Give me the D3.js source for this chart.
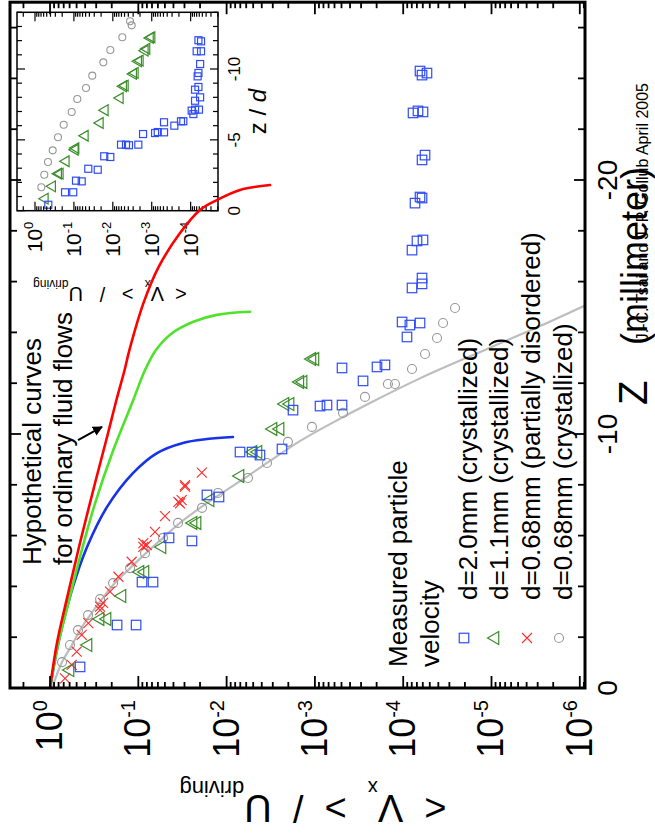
<!DOCTYPE html>
<html>
<head>
<meta charset="utf-8">
<script src="https://cdn.jsdelivr.net/npm/d3@7"></script>
<style>
  body { margin: 0; background: #fff; }
  svg { display: block; }
  text { font-family: 'Liberation Sans', Arial, Helvetica, sans-serif; fill: #000; }
</style>
</head>
<body>
<svg id="chart" width="655" height="835"></svg>
<script>
// ---------- measured particle velocity, main panel (Z in mm, V = <Vx>/U_driving) ----------
const sqZ = [-0.83,-2.48,-2.48,-4.17,-4.17,-5.91,-5.79,-7.60,-7.52,-9.29,-9.29,-9.17,-9.41,-10.94,-11.10,-11.14,-11.14,-12.60,-12.09,-12.64,-12.72,-14.41,-14.29,-14.37,-13.82,-16.14,-15.91,-15.75,-17.60,-17.64,-17.24,-19.33,-19.09,-19.29,-20.98,-20.79,-22.64,-22.72,-22.68,-24.29,-24.21,-24.13];
const sqV = [0.457,0.174,0.106,0.0908,0.0682,0.0449,0.0247,0.0167,0.0122,0.00705,0.00515,0.00419,0.00236,0.00177,8.75e-4,7.30e-4,4.93e-4,4.93e-4,2.85e-4,1.98e-4,1.61e-4,1.03e-4,8.40e-5,6.45e-5,9.06e-5,6.12e-5,6.12e-5,7.95e-5,6.98e-5,5.97e-5,7.95e-5,6.45e-5,7.35e-5,6.12e-5,5.66e-5,6.12e-5,7.74e-5,6.80e-5,5.97e-5,6.45e-5,5.38e-5,6.12e-5];

const triZ = [-0.71,-1.69,-2.72,-2.72,-3.62,-4.57,-4.57,-5.55,-6.50,-6.50,-7.40,-8.35,-9.29,-9.29,-10.20,-10.20,-11.18,-11.18,-12.05,-12.05,-12.95,-12.95];
const triV = [0.594,0.371,0.271,0.226,0.153,0.0957,0.0840,0.0539,0.0240,0.0216,0.0154,0.00705,0.00502,0.00441,0.00298,0.00248,0.00218,0.00191,0.00148,0.00136,0.00108,0.000998];

const crossZ = [-0.38,-0.91,-1.43,-2.09,-2.55,-3.07,-3.20,-3.35,-3.79,-4.38,-4.97,-5.56,-5.63,-5.70,-6.15,-6.77,-7.27,-7.33,-7.40,-7.93,-7.99,-8.48];
const crossV = [0.676,0.568,0.499,0.438,0.368,0.271,0.271,0.251,0.209,0.168,0.119,0.0877,0.0803,0.0877,0.0647,0.0499,0.0337,0.0352,0.0323,0.0296,0.0296,0.0191];

const circZ = [-1.02,-1.69,-2.28,-2.87,-3.50,-4.13,-4.72,-5.31,-5.91,-6.50,-7.09,-7.68,-8.27,-8.86,-9.69,-10.28,-10.83,-11.46,-11.97,-11.97,-12.56,-13.15,-13.78,-14.37,-14.96];
const circV = [0.731,0.594,0.482,0.371,0.271,0.193,0.124,0.0840,0.0525,0.0355,0.0190,0.0125,0.00573,0.00349,0.00202,0.00108,4.80e-4,2.71e-4,1.49e-4,1.24e-4,7.95e-5,5.66e-5,4.14e-5,3.54e-5,2.59e-5];

// grey curve through the d=0.68mm crystallized points
const fitZ = [0,-1.02,-1.69,-2.28,-2.87,-3.50,-4.13,-4.72,-5.31,-5.91,-6.50,-7.09,-7.68,-8.27,-8.94,-9.72,-10.39,-11.22,-12.19,-13.35,-14.25,-15.06];
const fitV = [0.948,0.731,0.564,0.457,0.352,0.258,0.184,0.124,0.0818,0.0525,0.0337,0.0200,0.01127,0.00619,0.00323,0.00148,6.75e-4,2.38e-4,6.46e-5,1.12e-5,2.82e-6,8.73e-7];

// hypothetical curves for ordinary fluid flows
const fluidRedZ = [0,-1.77,-3.46,-5.55,-8.07,-10.04,-11.34,-12.52,-13.31,-15.16,-16.57,-17.91,-18.82,-19.21,-19.61,-19.80];
const fluidRedV = [1,0.834,0.650,0.470,0.309,0.220,0.177,0.143,0.126,0.0873,0.0590,0.0337,0.0200,0.0129,0.00705,0.00322];
const fluidGreenZ = [0,-1.76,-3.33,-5.17,-7.27,-9.37,-11.34,-12.52,-13.31,-13.96,-14.42,-14.69,-14.81];
const fluidGreenV = [1,0.805,0.621,0.457,0.309,0.192,0.114,0.0839,0.0631,0.0419,0.0238,0.0129,0.00543];
const fluidBlueZ = [0,-1.76,-3.86,-5.55,-7.13,-8.46,-9.25,-9.65,-9.80,-9.88];
const fluidBlueV = [1,0.805,0.564,0.381,0.226,0.115,0.0614,0.0312,0.0167,0.00847];

// ---------- inset: same data against z/d ----------
const inSqZd = [-0.42,-1.30,-1.30,-2.12,-2.07,-2.96,-2.89,-3.84,-3.79,-4.66,-4.66,-4.62,-4.66,-5.41,-5.48,-5.55,-5.53,-6.24,-6.00,-6.31,-6.31,-7.06,-7.13,-7.13,-6.82,-7.76,-8.00,-8.54,-8.73,-9.48,-9.72,-10.35,-11.25,-11.25,-12.03,-11.95];
const inSqV = [0.455,0.169,0.104,0.0883,0.0630,0.0427,0.0244,0.0166,0.0116,0.00615,0.00458,0.00384,0.00221,0.00167,8.2e-4,7.0e-4,4.83e-4,4.83e-4,2.62e-4,1.77e-4,1.54e-4,9.4e-5,7.7e-5,6.1e-5,8.5e-5,7.7e-5,5.7e-5,7.7e-5,6.3e-5,6.6e-5,6.3e-5,5.7e-5,7.0e-5,5.4e-5,6.3e-5,5.4e-5];
const inTriZd = [-0.85,-1.72,-2.61,-2.61,-3.49,-4.42,-4.30,-5.29,-6.19,-7.09,-7.95,-8.82,-8.78,-9.72,-9.65,-10.59,-10.54,-11.43,-11.29,-12.24,-12.19];
const inTriV = [0.553,0.359,0.252,0.228,0.160,0.0899,0.0937,0.0518,0.0213,0.0159,0.00653,0.00485,0.00537,0.00269,0.00297,0.00200,0.00221,0.00135,0.00149,0.00100,0.00110];
const inCircZd = [-1.65,-2.54,-3.44,-4.26,-5.18,-6.07,-6.97,-7.88,-8.66,-9.53,-10.47,-11.34,-12.24,-13.37,-13.08];
const inCircV = [0.689,0.577,0.463,0.351,0.256,0.183,0.114,0.0818,0.0489,0.0337,0.0175,0.0116,0.0057,0.00361,0.00327];

// ---------- axis ticks and labels ----------
const zTickLabels = [0, -10, -20];
const vTickExps = [0, -1, -2, -3, -4, -5, -6];
const inZdTickLabels = [0, -5, -10];
const inVTickExps = [0, -1, -2, -3, -4];

const legendLabels = ["d=2.0mm (crystallized)", "d=1.1mm (crystallized)", "d=0.68mm (partially disordered)", "d=0.68mm (crystallized)"];
const legendKinds = ["square", "triangle", "cross", "circle"];

const colors = {
  square: "#2f4cf4", triangle: "#3b8d2a", cross: "#ff2a2a", circle: "#979797",
  fit: "#bdbdbd", red: "#ff0000", green: "#4fe22c", blue: "#1733e8"
};

// The plot is laid out landscape (835 wide, 655 tall) and turned a quarter turn.
const svg = d3.select("#chart");
const g = svg.append("g").attr("transform", "translate(0,835) rotate(-90)");

// main scales
const x = d3.scaleLinear().domain([0, -27]).range([147, 832.8]);
const y = d3.scaleLog().domain([2.84, 8.73e-7]).range([10, 585]);
// inset scales
const xi = d3.scaleLinear().domain([0, -14]).range([624.3, 822.7]);
const yi = d3.scaleLog().domain([2.9, 1.98e-5]).range([17, 218]);

const defs = svg.append("defs");
defs.append("clipPath").attr("id", "mainClip").append("rect")
  .attr("x", x(0)).attr("y", y.range()[0]).attr("width", x(-27) - x(0)).attr("height", y.range()[1] - y.range()[0]);
defs.append("clipPath").attr("id", "insetClip").append("rect")
  .attr("x", xi(0)).attr("y", yi.range()[0]).attr("width", xi(-14) - xi(0)).attr("height", yi.range()[1] - yi.range()[0]);
defs.append("marker").attr("id", "arrowHead").attr("viewBox", "0 0 10 10")
  .attr("refX", 9).attr("refY", 5).attr("markerWidth", 5).attr("markerHeight", 5)
  .attr("orient", "auto").append("path").attr("d", "M0,0 L10,5 L0,10 z").attr("fill", "#000");

// ---------- marker helpers ----------
function drawMarkers(parent, xs, ys, kind, sx, sy, size) {
  const pts = xs.map((v, i) => [sx(v), sy(ys[i])]);
  const c = colors[kind];
  if (kind === "square") {
    parent.selectAll(null).data(pts).join("rect")
      .attr("x", d => d[0] - size / 2).attr("y", d => d[1] - size / 2)
      .attr("width", size).attr("height", size)
      .attr("fill", "none").attr("stroke", c).attr("stroke-width", 1.2);
  } else if (kind === "triangle") {
    const sym = d3.symbol(d3.symbolTriangle, size * size * 0.5);
    parent.selectAll(null).data(pts).join("path")
      .attr("d", sym).attr("transform", d => `translate(${d[0]},${d[1]})`)
      .attr("fill", "none").attr("stroke", c).attr("stroke-width", 1.2);
  } else if (kind === "cross") {
    const h = size / 2;
    parent.selectAll(null).data(pts).join("path")
      .attr("d", d => `M${d[0]-h},${d[1]-h}L${d[0]+h},${d[1]+h}M${d[0]-h},${d[1]+h}L${d[0]+h},${d[1]-h}`)
      .attr("fill", "none").attr("stroke", c).attr("stroke-width", 1.1);
  } else {
    parent.selectAll(null).data(pts).join("circle")
      .attr("cx", d => d[0]).attr("cy", d => d[1]).attr("r", size / 2)
      .attr("fill", "none").attr("stroke", c).attr("stroke-width", 1.1);
  }
}

function drawCurve(parent, xs, ys, sx, sy, color, width) {
  const pts = xs.map((v, i) => [sx(v), sy(ys[i])]);
  parent.append("path").datum(pts)
    .attr("d", d3.line().curve(d3.curveCatmullRom.alpha(0.5)))
    .attr("fill", "none").attr("stroke", color).attr("stroke-width", width)
    .attr("stroke-linecap", "round");
}

// ---------- inset panel ----------
const inset = g.append("g");
const iData = inset.append("g").attr("clip-path", "url(#insetClip)");
drawMarkers(iData, inCircZd, inCircV, "circle", xi, yi, 7);
drawMarkers(iData, inTriZd, inTriV, "triangle", xi, yi, 10);
drawMarkers(iData, inSqZd, inSqV, "square", xi, yi, 7);

const iTicks = inset.append("g").attr("stroke", "#000").attr("stroke-width", 1.2);
// z/d ticks, every unit, both long edges
d3.range(0, -14.01, -1).forEach(v => {
  const len = (v % 5 === 0) ? 8 : 5;
  const px = xi(v);
  iTicks.append("line").attr("x1", px).attr("x2", px).attr("y1", yi.range()[1]).attr("y2", yi.range()[1] - len);
  iTicks.append("line").attr("x1", px).attr("x2", px).attr("y1", yi.range()[0]).attr("y2", yi.range()[0] + len);
});
// log ticks on both short edges
(function () {
  const [top, bot] = yi.domain();
  for (let e = 1; e >= -6; e--) {
    for (let m = 1; m <= 9; m++) {
      const v = m * Math.pow(10, e);
      if (v > top || v < bot) continue;
      const len = m === 1 ? 9 : 4.5;
      const py = yi(v);
      iTicks.append("line").attr("x1", xi(0)).attr("x2", xi(0) + len).attr("y1", py).attr("y2", py);
      iTicks.append("line").attr("x1", xi(-14)).attr("x2", xi(-14) - len).attr("y1", py).attr("y2", py);
    }
  }
})();
inset.append("rect")
  .attr("x", xi(0)).attr("y", yi.range()[0]).attr("width", xi(-14) - xi(0)).attr("height", yi.range()[1] - yi.range()[0])
  .attr("fill", "none").attr("stroke", "#000").attr("stroke-width", 1.5);

inZdTickLabels.forEach(v => {
  inset.append("text").attr("x", xi(v)).attr("y", yi.range()[1] + 22)
    .attr("text-anchor", "middle").style("font-size", "17px").text(v);
});
inVTickExps.forEach(e => {
  const t = inset.append("text").attr("x", xi(0) - 11).attr("y", yi(Math.pow(10, e)) + 7)
    .attr("text-anchor", "end").style("font-size", "21px");
  t.append("tspan").text("10");
  t.append("tspan").attr("dy", -9).style("font-size", "13px").text(e);
});
(function () {
  const t = inset.append("text").attr("x", xi(-7)).attr("y", yi.range()[1] + 48)
    .attr("text-anchor", "middle").style("font-size", "24px").style("white-space", "pre");
  t.append("tspan").text("z / ");
  t.append("tspan").style("font-style", "italic").text("d");
})();
(function () {
  const t = inset.append("text").attr("transform", "translate(548,110) rotate(-90)")
    .attr("text-anchor", "middle").style("font-size", "20px").style("white-space", "pre");
  t.append("tspan").text("<  V");
  t.append("tspan").attr("dy", 7).style("font-size", "12px").text("x");
  t.append("tspan").attr("dy", -7).text("  >   /   U");
  t.append("tspan").attr("dy", 7).style("font-size", "12px").text("driving");
})();

// ---------- main panel ----------
const mData = g.append("g").attr("clip-path", "url(#mainClip)");
drawCurve(mData, fitZ, fitV, x, y, colors.fit, 2.2);
drawMarkers(mData, circZ, circV, "circle", x, y, 9);
drawMarkers(mData, crossZ, crossV, "cross", x, y, 10);
drawMarkers(mData, triZ, triV, "triangle", x, y, 12);
drawMarkers(mData, sqZ, sqV, "square", x, y, 9.5);
drawCurve(mData, fluidBlueZ, fluidBlueV, x, y, colors.blue, 2.6);
drawCurve(mData, fluidGreenZ, fluidGreenV, x, y, colors.green, 2.6);
drawCurve(mData, fluidRedZ, fluidRedV, x, y, colors.red, 2.6);

// frame ticks
const mTicks = g.append("g").attr("stroke", "#000").attr("stroke-width", 1.8);
d3.range(0, -26.01, -2).forEach(v => {
  const len = (v % 10 === 0) ? 11 : 7;
  const px = x(v);
  mTicks.append("line").attr("x1", px).attr("x2", px).attr("y1", y.range()[1]).attr("y2", y.range()[1] - len);
  mTicks.append("line").attr("x1", px).attr("x2", px).attr("y1", y.range()[0]).attr("y2", y.range()[0] + len);
});
(function () {
  const [top, bot] = y.domain();
  for (let e = 1; e >= -7; e--) {
    for (let m = 1; m <= 9; m++) {
      const v = m * Math.pow(10, e);
      if (v > top || v < bot) continue;
      const len = m === 1 ? 12 : 6;
      const py = y(v);
      mTicks.append("line").attr("x1", x(0)).attr("x2", x(0) + len).attr("y1", py).attr("y2", py);
      mTicks.append("line").attr("x1", x(-27)).attr("x2", x(-27) - len).attr("y1", py).attr("y2", py);
    }
  }
})();
g.append("rect")
  .attr("x", x(0)).attr("y", y.range()[0]).attr("width", x(-27) - x(0)).attr("height", y.range()[1] - y.range()[0])
  .attr("fill", "none").attr("stroke", "#000").attr("stroke-width", 3);

// tick labels
zTickLabels.forEach(v => {
  g.append("text").attr("x", x(v)).attr("y", 617)
    .attr("text-anchor", "middle").style("font-size", "28px").text(v);
});
vTickExps.forEach(e => {
  const t = g.append("text").attr("x", 135).attr("y", y(Math.pow(10, e)) + 12)
    .attr("text-anchor", "end").style("font-size", "36px");
  t.append("tspan").text("10");
  t.append("tspan").attr("dy", -15).style("font-size", "20px").text(e);
});

// axis titles
(function () {
  const t = g.append("text").attr("transform", "translate(40,313) rotate(-90)")
    .attr("text-anchor", "middle").style("font-size", "38px").style("white-space", "pre");
  t.append("tspan").text("<  V");
  t.append("tspan").attr("dy", 14).style("font-size", "20px").text("x");
  t.append("tspan").attr("dy", -14).text("  >  /  U");
  t.append("tspan").attr("dy", 14).style("font-size", "22px").text("driving");
})();
g.append("text").attr("x", 430).attr("y", 647).style("font-size", "40px").text("Z");
g.append("text").attr("x", 490).attr("y", 647).style("font-size", "36px").text("(millimeter)");

// annotation for the fluid-flow curves
g.append("text").attr("x", 270).attr("y", 41).style("font-size", "26px").text("Hypothetical curves");
g.append("text").attr("x", 270).attr("y", 72).style("font-size", "26px").text("for ordinary fluid flows");
g.append("line")
  .attr("x1", x(-9.76)).attr("y1", y(0.482)).attr("x2", x(-10.28)).attr("y2", y(0.258))
  .attr("stroke", "#000").attr("stroke-width", 2).attr("marker-end", "url(#arrowHead)");

// legend
g.append("text").attr("x", 168).attr("y", 407).style("font-size", "26px").text("Measured particle");
g.append("text").attr("x", 168).attr("y", 439).style("font-size", "26px").text("velocity");
const legendBase = [477, 508, 540, 572];
legendLabels.forEach((lab, i) => {
  g.append("text").attr("x", 235).attr("y", legendBase[i]).style("font-size", "26px").text(lab);
  const sz = { square: 9.5, triangle: 12, cross: 10, circle: 9 }[legendKinds[i]];
  drawMarkers(g, [0], [0], legendKinds[i],
    () => 197, () => legendBase[i] - 13, sz);
});

// credit line
g.append("text").attr("x", 752).attr("y", 648).attr("text-anchor", "end")
  .style("font-size", "16px").text("J.-C. Tsai and J. P. Gollub  April 2005");
</script>
</body>
</html>
